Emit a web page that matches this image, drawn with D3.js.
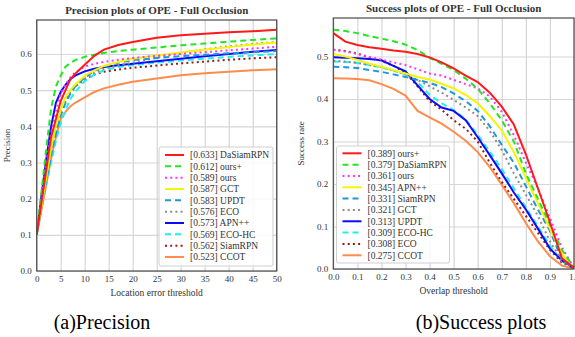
<!DOCTYPE html>
<html><head><meta charset="utf-8">
<script src="https://cdn.jsdelivr.net/npm/d3@7"></script>
<style>
html,body{margin:0;padding:0;background:#fff;}
svg{display:block;}
text{font-family:"Liberation Serif","Times New Roman",serif;}
</style></head>
<body>
<svg id="chart" width="575" height="337"></svg>
<script>
// ---------- DATA ----------
const precThresholds = [0,1,2,3,4,5,6,7,8,10,12,14,17,20,25,30,35,40,45,50];
const precNames  = ["DaSiamRPN","ours+","ours","GCT","UPDT","ECO","APN++","ECO-HC","SiamRPN","CCOT"];
const precScores = ["0.633","0.612","0.589","0.587","0.583","0.576","0.573","0.569","0.562","0.523"];
const precDaSiamRPN = [0.10,0.19,0.28,0.37,0.42,0.47,0.50,0.53,0.545,0.57,0.595,0.612,0.625,0.633,0.645,0.652,0.656,0.660,0.663,0.667];
const precOursPlus  = [0.10,0.22,0.34,0.45,0.51,0.54,0.565,0.575,0.583,0.592,0.598,0.603,0.608,0.612,0.618,0.624,0.629,0.634,0.639,0.643];
const precOurs      = [0.10,0.20,0.30,0.38,0.44,0.49,0.515,0.535,0.55,0.565,0.573,0.578,0.584,0.589,0.595,0.600,0.605,0.610,0.615,0.620];
const precGCT       = [0.10,0.18,0.26,0.34,0.40,0.445,0.48,0.50,0.515,0.54,0.555,0.567,0.578,0.587,0.596,0.604,0.612,0.619,0.626,0.632];
const precUPDT      = [0.10,0.18,0.25,0.32,0.38,0.43,0.465,0.49,0.51,0.535,0.553,0.566,0.576,0.583,0.589,0.594,0.598,0.602,0.605,0.608];
const precECO       = [0.10,0.18,0.26,0.33,0.39,0.44,0.47,0.495,0.51,0.532,0.548,0.559,0.569,0.576,0.590,0.603,0.613,0.621,0.628,0.633];
const precAPN       = [0.10,0.21,0.31,0.40,0.465,0.495,0.515,0.53,0.54,0.552,0.559,0.564,0.569,0.573,0.580,0.587,0.594,0.600,0.606,0.611];
const precECOHC     = [0.10,0.17,0.24,0.30,0.36,0.41,0.445,0.475,0.495,0.525,0.543,0.555,0.564,0.569,0.576,0.582,0.587,0.592,0.596,0.600];
const precSiamRPN   = [0.10,0.18,0.26,0.33,0.39,0.44,0.47,0.495,0.51,0.53,0.543,0.551,0.557,0.562,0.568,0.574,0.579,0.584,0.588,0.591];
const precCCOT      = [0.10,0.17,0.24,0.31,0.37,0.42,0.44,0.455,0.465,0.48,0.495,0.505,0.515,0.523,0.532,0.541,0.547,0.551,0.555,0.558];

const succThresholds = [0,0.05,0.1,0.15,0.2,0.25,0.3,0.35,0.4,0.45,0.5,0.55,0.6,0.65,0.7,0.75,0.8,0.85,0.9,0.95,1.0];
const succNames  = ["ours+","DaSiamRPN","ours","APN++","SiamRPN","GCT","UPDT","ECO-HC","ECO","CCOT"];
const succScores = ["0.389","0.379","0.361","0.345","0.331","0.321","0.313","0.309","0.308","0.275"];
const succOursPlus  = [0.555,0.535,0.527,0.522,0.518,0.514,0.511,0.506,0.498,0.486,0.472,0.455,0.440,0.415,0.382,0.340,0.270,0.190,0.110,0.025,0.003];
const succDaSiamRPN = [0.563,0.560,0.555,0.548,0.542,0.536,0.528,0.515,0.497,0.483,0.468,0.448,0.424,0.390,0.350,0.300,0.225,0.165,0.105,0.045,0.003];
const succOurs      = [0.516,0.512,0.506,0.499,0.493,0.486,0.480,0.470,0.460,0.455,0.445,0.435,0.425,0.406,0.370,0.315,0.250,0.190,0.120,0.050,0.003];
const succAPN       = [0.506,0.500,0.492,0.483,0.476,0.468,0.460,0.452,0.446,0.436,0.425,0.410,0.390,0.360,0.326,0.275,0.215,0.155,0.095,0.035,0.003];
const succSiamRPN   = [0.476,0.475,0.473,0.468,0.464,0.458,0.452,0.445,0.438,0.428,0.413,0.395,0.372,0.336,0.292,0.250,0.195,0.140,0.090,0.022,0.002];
const succGCT       = [0.490,0.488,0.485,0.480,0.475,0.467,0.458,0.445,0.430,0.415,0.398,0.380,0.360,0.325,0.280,0.225,0.175,0.125,0.065,0.020,0.002];
const succUPDT      = [0.498,0.497,0.496,0.494,0.491,0.478,0.465,0.432,0.400,0.380,0.372,0.350,0.310,0.268,0.225,0.180,0.140,0.095,0.048,0.020,0.002];
const succECOHC     = [0.488,0.487,0.485,0.480,0.474,0.467,0.458,0.440,0.410,0.390,0.374,0.352,0.316,0.276,0.235,0.190,0.145,0.100,0.055,0.018,0.002];
const succECO       = [0.516,0.513,0.507,0.498,0.490,0.478,0.462,0.430,0.395,0.375,0.350,0.330,0.300,0.250,0.205,0.165,0.125,0.085,0.045,0.015,0.002];
const succCCOT      = [0.449,0.448,0.447,0.444,0.435,0.424,0.408,0.372,0.357,0.342,0.323,0.302,0.275,0.240,0.198,0.155,0.108,0.065,0.030,0.008,0.001];

const precTicksX = [0,5,10,15,20,25,30,35,40,45,50];
const precTicksY = [0.0,0.1,0.2,0.3,0.4,0.5,0.6];
const succTicksX = [0.0,0.1,0.2,0.3,0.4,0.5,0.6,0.7,0.8,0.9,1.0];
const succTicksY = [0.0,0.1,0.2,0.3,0.4,0.5];

// styles by rank
const rankColors = ["#ff1a1a","#22e622","#ff33ff","#f5f500","#1f97dc","#8c8c8c","#0a0aff","#22eeee","#9a1a1a","#ff8c4a"];
const rankDash   = ["none","6,4","2,3.2","none","6,4","2,3.2","none","6,4","2,3.2","none"];

const precSeries = [precDaSiamRPN,precOursPlus,precOurs,precGCT,precUPDT,precECO,precAPN,precECOHC,precSiamRPN,precCCOT];
const succSeries = [succOursPlus,succDaSiamRPN,succOurs,succAPN,succSiamRPN,succGCT,succUPDT,succECOHC,succECO,succCCOT];

const svg = d3.select("#chart");

function panel(opts){
  const g = svg.append("g");
  const x = d3.scaleLinear().domain(opts.xDomain).range(opts.xRange);
  const y = d3.scaleLinear().domain(opts.yDomain).range(opts.yRange);
  const [x0,x1] = opts.xRange, [y0,y1] = opts.yRange;
  // grid
  g.append("g").attr("transform",`translate(0,${y0})`)
    .call(d3.axisBottom(x).tickValues(opts.xTicks).tickSize(-(y0-y1)).tickFormat(""))
    .call(s=>{s.select(".domain").remove(); s.selectAll("line").attr("stroke","#d6d6d6").attr("stroke-width",1.2);});
  g.append("g").attr("transform",`translate(${x0},0)`)
    .call(d3.axisLeft(y).tickValues(opts.yTicks).tickSize(-(x1-x0)).tickFormat(""))
    .call(s=>{s.select(".domain").remove(); s.selectAll("line").attr("stroke","#d6d6d6").attr("stroke-width",1.2);});
  // tick labels
  g.append("g").attr("transform",`translate(0,${y0})`)
    .call(d3.axisBottom(x).tickValues(opts.xTicks).tickSize(0).tickPadding(5).tickFormat(opts.xFmt))
    .call(s=>{s.select(".domain").remove(); s.selectAll("text").attr("font-size","9px").attr("fill","#333").attr("font-family","Liberation Serif, serif");});
  g.append("g").attr("transform",`translate(${x0},0)`)
    .call(d3.axisLeft(y).tickValues(opts.yTicks).tickSize(0).tickPadding(5).tickFormat(d3.format(".1f")))
    .call(s=>{s.select(".domain").remove(); s.selectAll("text").attr("font-size","9px").attr("fill","#333").attr("font-family","Liberation Serif, serif");});
  // clip
  const cid = "clip"+opts.id;
  svg.append("clipPath").attr("id",cid).append("rect")
    .attr("x",x0).attr("y",y1).attr("width",x1-x0).attr("height",y0-y1);
  const line = d3.line().x((d,i)=>x(opts.thresholds[i])).y(d=>y(d));
  const lg = g.append("g").attr("clip-path",`url(#${cid})`);
  for(let k=opts.series.length-1;k>=0;k--){
    lg.append("path").attr("d",line(opts.series[k])).attr("fill","none")
      .attr("stroke",rankColors[k]).attr("stroke-width",2)
      .attr("stroke-dasharray",rankDash[k]==="none"?null:rankDash[k]);
  }
  // frame
  g.append("rect").attr("x",x0).attr("y",y1).attr("width",x1-x0).attr("height",y0-y1)
    .attr("fill","none").attr("stroke","#4a4a4a").attr("stroke-width",1.2);
  // title
  g.append("text").attr("x",(x0+x1)/2).attr("y",y1-6).attr("text-anchor","middle")
    .attr("font-size","11px").attr("font-weight","bold").attr("fill","#333").text(opts.title);
  g.append("text").attr("x",(x0+x1)/2).attr("y",y0+25).attr("text-anchor","middle")
    .attr("font-size","9.5px").attr("fill","#333").text(opts.xLabel);
  g.append("text").attr("transform",`translate(${opts.yLabelX},${(y0+y1)/2}) rotate(-90)`)
    .attr("text-anchor","middle").attr("font-size","9px").attr("fill","#333").text(opts.yLabel);
  // legend
  const L = opts.legend;
  const lgd = g.append("g");
  lgd.append("rect").attr("x",L.x).attr("y",L.y).attr("width",L.w).attr("height",L.h).attr("rx",2)
    .attr("fill","#fff").attr("fill-opacity",0.85).attr("stroke","#cfcfcf").attr("stroke-width",1);
  opts.names.forEach((n,i)=>{
    const yy = L.row0 + i*11.33;
    lgd.append("line").attr("x1",L.x+6).attr("x2",L.x+25).attr("y1",yy).attr("y2",yy)
      .attr("stroke",rankColors[i]).attr("stroke-width",2)
      .attr("stroke-dasharray",rankDash[i]==="none"?null:rankDash[i]);
    lgd.append("text").attr("x",L.x+31).attr("y",yy+3.3).attr("font-size","9.5px").attr("fill","#333")
      .text(`[${opts.scores[i]}] ${n}`);
  });
}

panel({id:"p", xDomain:[0,50], xRange:[36.7,276.7], yDomain:[0,0.694], yRange:[271,20],
  xTicks:precTicksX, yTicks:precTicksY, xFmt:d3.format("d"), thresholds:precThresholds, series:precSeries,
  title:"Precision plots of OPE - Full Occlusion", xLabel:"Location error threshold", yLabel:"Precision", yLabelX:10,
  names:precNames, scores:precScores, legend:{x:159,y:147,w:114,h:119,row0:155}});

panel({id:"s", xDomain:[0,1], xRange:[333.3,574], yDomain:[0,0.5906], yRange:[269,18],
  xTicks:succTicksX, yTicks:succTicksY, xFmt:d3.format(".1f"), thresholds:succThresholds, series:succSeries,
  title:"Success plots of OPE - Full Occlusion", xLabel:"Overlap threshold", yLabel:"Success rate", yLabelX:304,
  names:succNames, scores:succScores, legend:{x:336.5,y:146,w:113,h:117,row0:153.3}});

// captions
svg.append("text").attr("x",102).attr("y",329).attr("text-anchor","middle").attr("font-size","20px")
  .attr("fill","#000").text("(a)Precision");
svg.append("text").attr("x",481).attr("y",329).attr("text-anchor","middle").attr("font-size","20px")
  .attr("fill","#000").text("(b)Success plots");
</script>
</body></html>
